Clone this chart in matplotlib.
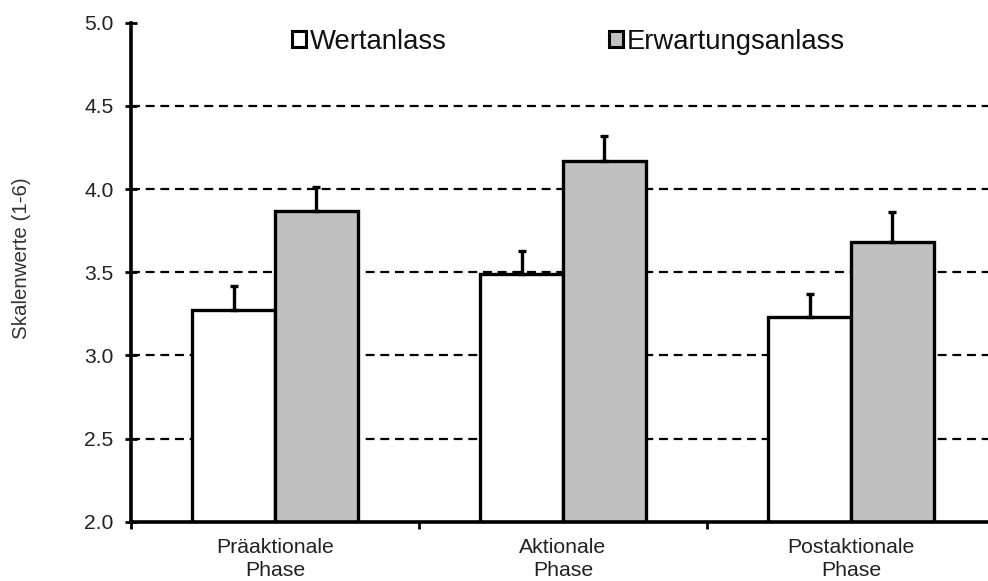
import matplotlib
matplotlib.use("Agg")
import matplotlib.pyplot as plt
from matplotlib.patches import Patch
import numpy as np

categories = ["Präaktionale\nPhase", "Aktionale\nPhase", "Postaktionale\nPhase"]
series_names = ["Wertanlass", "Erwartungsanlass"]
wert = [3.27, 3.49, 3.23]
wert_err = [0.15, 0.14, 0.14]
erw = [3.87, 4.17, 3.68]
erw_err = [0.14, 0.15, 0.18]
yticks = [2.0, 2.5, 3.0, 3.5, 4.0, 4.5, 5.0]

plt.rcParams['font.family'] = ['Liberation Sans', 'DejaVu Sans']

fig = plt.figure(figsize=(9.88, 5.81), dpi=100)
ax = fig.add_axes([131/988, 1 - 521.7/581, 864/988, (521.7 - 22.7)/581])

x = np.arange(len(categories))
w = 0.288
lw = 2.4
ax.bar(x - w/2, wert, w, color="white", edgecolor="black", linewidth=lw, zorder=3)
ax.bar(x + w/2, erw, w, color="#c0c0c0", edgecolor="black", linewidth=lw, zorder=3)
ax.errorbar(x - w/2, wert, yerr=[np.zeros(3), wert_err], fmt="none", ecolor="black",
            elinewidth=2.4, capsize=3, capthick=2.4, zorder=4)
ax.errorbar(x + w/2, erw, yerr=[np.zeros(3), erw_err], fmt="none", ecolor="black",
            elinewidth=2.4, capsize=3, capthick=2.4, zorder=4)

ax.set_ylim(2.0, 5.0)
ax.set_xlim(-0.5, 2.5)
for yv in yticks[1:-1]:
    ax.axhline(yv, color="black", linestyle=(0, (4, 2.6)), linewidth=1.6, zorder=1)

ax.set_yticks(yticks)
ax.set_yticklabels([f"{v:.1f}" for v in yticks], fontsize=15.2, color="#222222")
ax.tick_params(axis="y", direction="inout", length=9, width=2, pad=8)

ax.set_xticks(x)
ax.set_xticklabels(categories, fontsize=15.3, color="#222222", linespacing=1.25)
ax.tick_params(axis="x", which="major", length=0, pad=12)
ax.set_xticks([-0.5, 0.5, 1.5, 2.5], minor=True)
ax.tick_params(axis="x", which="minor", direction="out", length=5, width=2)

for s in ["top", "right"]:
    ax.spines[s].set_visible(False)
for s in ["left", "bottom"]:
    ax.spines[s].set_linewidth(2.6)
    ax.spines[s].set_zorder(5)

fig.text(22/988, 1 - 258/581, "Skalenwerte (1-6)", rotation=90, ha="center", va="center",
         fontsize=14.8, color="#333333")

handles = [Patch(facecolor="white", edgecolor="black", linewidth=2.2),
           Patch(facecolor="#c0c0c0", edgecolor="black", linewidth=2.2)]
leg = fig.legend(handles, series_names, loc="center left", bbox_to_anchor=(292/988, 1 - 42/581),
                 ncol=2, frameon=False, fontsize=19.8, handlelength=0.5, handleheight=0.5,
                 handletextpad=0.15, columnspacing=5.9, borderpad=0, borderaxespad=0)
for t in leg.get_texts():
    t.set_color("#111111")

fig.savefig("out.png", dpi=100)
